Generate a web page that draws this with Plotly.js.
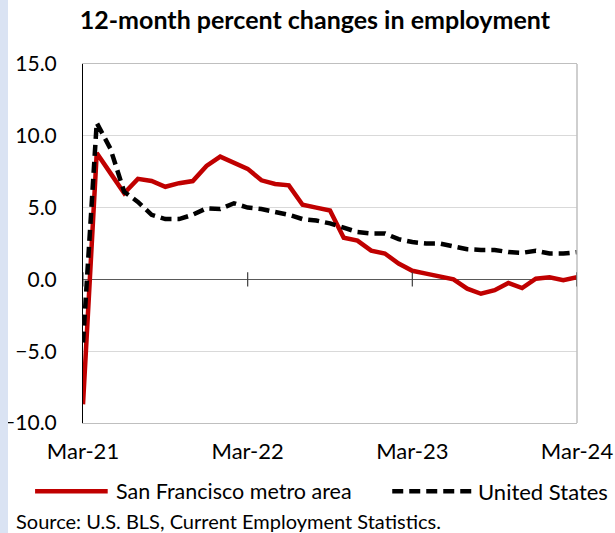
<!DOCTYPE html>
<html>
<head>
<meta charset="utf-8">
<script src="https://cdn.plot.ly/plotly-3.0.1.min.js"></script>
<style>
  body { margin: 0; background: #fff; }
  #strip { position: absolute; left: 0; top: 0; width: 8px; height: 533px; background: #dae3f3; z-index: 5; }
  #chart { width: 615px; height: 533px; }
</style>
</head>
<body>
<div id="strip"></div>
<div id="chart"></div>
<script>
// monthly labels, Mar-21 .. Mar-24
let months = ['Mar-21','Apr-21','May-21','Jun-21','Jul-21','Aug-21','Sep-21','Oct-21','Nov-21','Dec-21',
  'Jan-22','Feb-22','Mar-22','Apr-22','May-22','Jun-22','Jul-22','Aug-22','Sep-22','Oct-22','Nov-22','Dec-22',
  'Jan-23','Feb-23','Mar-23','Apr-23','May-23','Jun-23','Jul-23','Aug-23','Sep-23','Oct-23','Nov-23','Dec-23',
  'Jan-24','Feb-24','Mar-24'];
let yearTicks = ['Mar-21','Mar-22','Mar-23','Mar-24'];

let sfMetro = [-8.7, 8.8, 7.4, 6.0, 7.0, 6.85, 6.45, 6.7, 6.85, 7.9,
  8.55, 8.1, 7.7, 6.9, 6.65, 6.55, 5.2, 5.0, 4.8, 2.9, 2.7, 2.0,
  1.8, 1.1, 0.6, 0.4, 0.2, 0.0, -0.65, -1.0, -0.75, -0.25, -0.6, 0.05,
  0.15, -0.05, 0.15];
let usTotal = [-4.4, 10.9, 9.1, 6.1, 5.4, 4.5, 4.2, 4.2, 4.5, 4.95,
  4.9, 5.3, 5.0, 4.9, 4.7, 4.5, 4.2, 4.1, 3.9, 3.6, 3.3, 3.2,
  3.2, 2.8, 2.6, 2.5, 2.5, 2.3, 2.1, 2.05, 2.05, 1.9, 1.85, 2.0,
  1.8, 1.8, 1.9];

let sfName = 'San Francisco metro area';
let usName = 'United States';
let sourceNote = 'Source: U.S. BLS, Current Employment Statistics.';

let fnt = 'Lato, "Liberation Sans", sans-serif';
let redCol = '#c00000';
let usDash = '11px,6px';

let sfTrace = {
    x: months,
    y: sfMetro,
    name: sfName,
    mode: 'lines',
    type: 'scatter',
    line: { color: redCol, width: 4.5 }
};
let usTrace = {
    x: months,
    y: usTotal,
    name: usName,
    mode: 'lines',
    type: 'scatter',
    line: { color: '#000000', width: 4.5, dash: usDash }
};

// small crossing ticks on the zero line
let tickShapes = yearTicks.map(function (m) {
    return { type: 'line', xref: 'x', yref: 'y', x0: m, x1: m, y0: -0.5, y1: 0.5,
             line: { color: '#404040', width: 1.2 } };
});

// hand-drawn legend samples (wider than plotly's own)
let legY = -0.19;
let legendShapes = [
    { type: 'line', xref: 'paper', yref: 'paper', x0: -0.097, x1: 0.05, y0: legY, y1: legY,
      line: { color: redCol, width: 4.5 } },
    { type: 'line', xref: 'paper', yref: 'paper', x0: 0.626, x1: 0.787, y0: legY, y1: legY,
      line: { color: '#000', width: 4.5, dash: usDash } }
];

let layout = {
    width: 615,
    height: 533,
    margin: { l: 83, r: 38, t: 64, b: 110 },
    paper_bgcolor: '#fff',
    plot_bgcolor: '#fff',
    font: { family: fnt, color: '#000', size: 21 },
    title: {
        text: '<b>12-month percent changes in employment</b>',
        font: { family: fnt, size: 25, color: '#000' },
        x: 0.512, xanchor: 'center', y: 0.962, yanchor: 'middle'
    },
    xaxis: {
        type: 'category',
        range: [0, 36],
        tickvals: yearTicks,
        ticktext: yearTicks,
        showgrid: false,
        showline: true,
        linecolor: '#bfbfbf',
        linewidth: 1,
        mirror: true,
        ticks: '',
        ticklabelstandoff: 9,
        tickfont: { size: 22 }
    },
    yaxis: {
        range: [-10, 15],
        dtick: 5,
        tick0: 0,
        tickformat: '.1f',
        showgrid: true,
        gridcolor: '#d9d9d9',
        gridwidth: 1,
        zeroline: true,
        zerolinecolor: '#595959',
        zerolinewidth: 1.5,
        showline: true,
        linecolor: '#000',
        linewidth: 1,
        ticks: '',
        ticklabelstandoff: 21,
        tickfont: { size: 21 }
    },
    shapes: [
        { type: 'line', xref: 'paper', yref: 'paper', x0: 1, x1: 1, y0: 0, y1: 1,
          line: { color: '#bfbfbf', width: 1.5 } }
    ].concat(tickShapes, legendShapes),
    showlegend: false,
    annotations: [
        { text: sfName, xref: 'paper', yref: 'paper', x: 0.063, y: legY,
          xanchor: 'left', yanchor: 'middle', showarrow: false, font: { size: 21.5 } },
        { text: usName, xref: 'paper', yref: 'paper', x: 0.796, y: legY,
          xanchor: 'left', yanchor: 'middle', showarrow: false, font: { size: 22 } },
        { text: sourceNote, xref: 'paper', yref: 'paper', x: -0.14, y: -0.272,
          xanchor: 'left', yanchor: 'middle', showarrow: false, font: { size: 20 } }
    ]
};

Plotly.newPlot('chart', [sfTrace, usTrace], layout, { displayModeBar: false, staticPlot: true });
</script>
</body>
</html>
